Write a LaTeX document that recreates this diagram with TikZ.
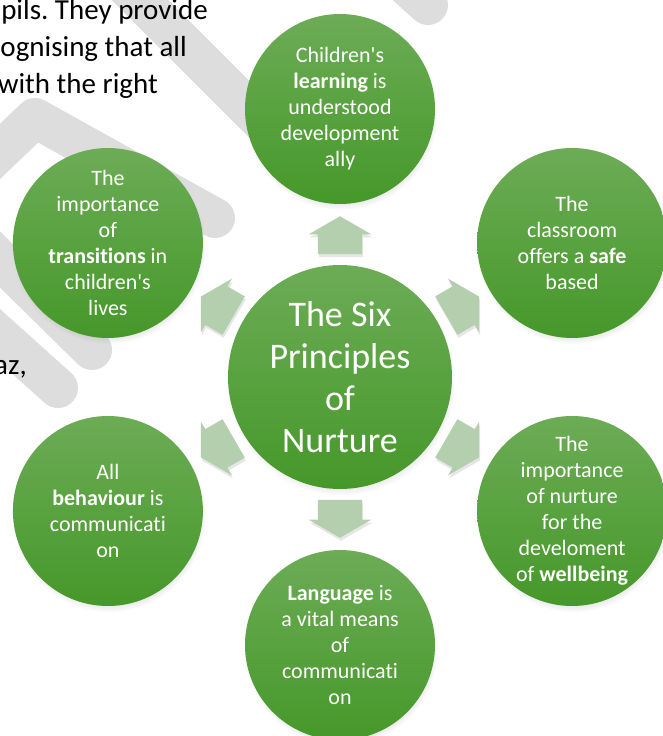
\documentclass[tikz,border=0pt]{standalone}
\usepackage{fontspec}
\setmainfont{Carlito}[Ligatures={NoCommon}]
\usetikzlibrary{positioning, calc, shapes.arrows, shadows}
\frenchspacing

\definecolor{nurtlight}{RGB}{108,172,86}
\definecolor{nurtdark}{RGB}{70,152,42}
\definecolor{arrowgreen}{RGB}{180,207,174}
\definecolor{markgrey}{RGB}{221,221,221}

\tikzset{
  principle/.style={circle, minimum size=190pt, inner sep=0pt, align=center, text=white,
    top color=nurtlight, bottom color=nurtdark,
    circular drop shadow={shadow xshift=1pt, shadow yshift=-4pt, shadow scale=1.02, opacity=.35},
    font=\fontsize{22}{26}\selectfont},
  hub/.style={principle, minimum size=224pt, font=\fontsize{36}{42}\selectfont},
  outarrow/.style={single arrow, minimum height=38pt, inner xsep=0pt, inner ysep=22pt,
    single arrow head extend=9pt, single arrow tip angle=120, fill=arrowgreen,
    drop shadow={opacity=.2, shadow xshift=1pt, shadow yshift=-3pt}},
  bgtext/.style={font=\fontsize{29}{36}\selectfont, anchor=base east, inner sep=0pt},
  watermark/.style={draw=markgrey, line width=40pt, line cap=round, line join=round}
}
\newcommand{\apos}{\textquotesingle}

\begin{document}
\begin{tikzpicture}[x=1pt, y=1pt]
        % page frame, the centre circle sits at the origin
        \useasboundingbox (-340,-359) rectangle (323,377);
        \clip (-340,-359) rectangle (323,377);

        % grey watermark behind the page
        \draw[watermark] (-40,487) -- (88,372);
        \draw[watermark] (-240,417) -- (-50,227);
        \draw[watermark] (-370,197) -- (-305,259) -- (-125,159);
        \draw[watermark] (-370,147) -- (-248,27);
        \draw[watermark] (-380,77) -- (-282,-11);

        % bits of the page text
        \node[bgtext] (line1) at (-132,357) {pils. They provide};
        \node[bgtext] (line2) at (-153,320) {ognising that all};
        \node[bgtext] (line3) at (-182,283) {with the right};
        \node[bgtext] (line4) at (-313,3) {az,};

        % the six principles round the hub
        \node[hub] (hub) at (0,0) {The Six\\Principles\\of\\Nurture};
        \node[principle] (learning) at (90:268) {Children\apos s\\\textbf{learning} is\\understood\\development\\ally};
        \node[principle] (safe) at (30:268) {The\\classroom\\offers a \textbf{safe}\\based};
        \node[principle] (wellbeing) at (-30:268) {The\\importance\\of nurture\\for the\\develoment\\of \textbf{wellbeing}};
        \node[principle] (language) at (-90:268) {\textbf{Language} is\\a vital means\\of\\communicati\\on};
        \node[principle] (behaviour) at (-150:268) {All\\\textbf{behaviour} is\\communicati\\on};
        \node[principle] (transitions) at (150:268) {The\\importance\\of\\\textbf{transitions} in\\children\apos s\\lives};

        % block arrows pointing out
        \foreach \s/\a in {learning/90, safe/30, wellbeing/-30, language/-90, behaviour/-150, transitions/150}
          \node[outarrow, rotate=\a] (arr-\s) at ($(hub)!0.505!(\s)$) {};
\end{tikzpicture}
\end{document}
